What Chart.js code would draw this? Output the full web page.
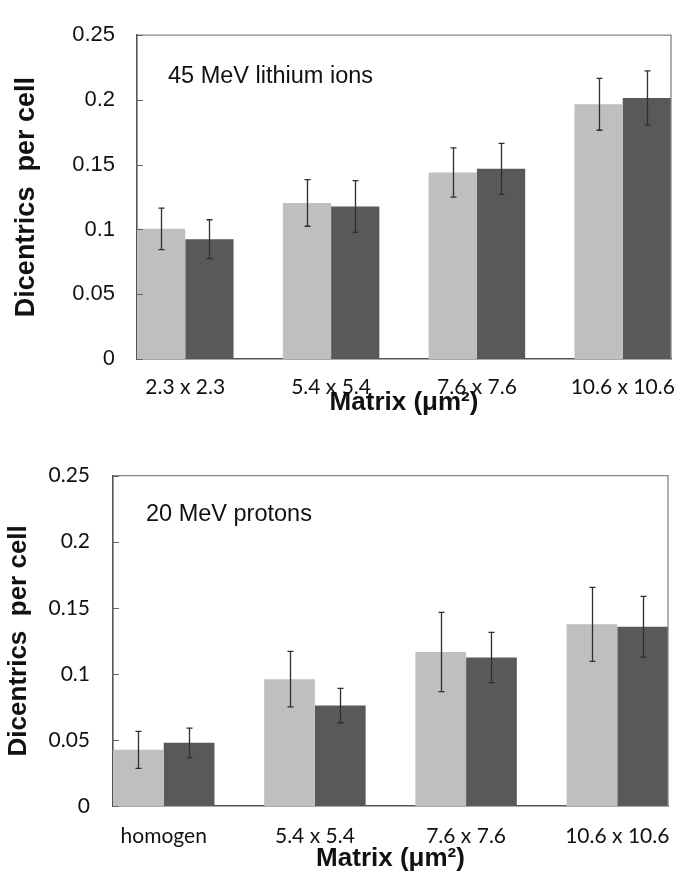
<!DOCTYPE html>
<html lang="en">
<head>
  <meta charset="UTF-8" />
  <title>Dicentrics per cell</title>
  <script src="https://cdn.jsdelivr.net/npm/chart.js"></script>
  <style>
    body { margin: 0; background: #fff; }
    canvas { display: block; }
  </style>
</head>
<body>

  <canvas id="graficoLitio" width="680" height="440"></canvas>
  <canvas id="graficoProtons" width="680" height="444"></canvas>

  <script>
    // dados
    const topCategories = ["2.3 x 2.3", "5.4 x 5.4", "7.6 x 7.6", "10.6 x 10.6"];
    const topLight = [0.1005, 0.1205, 0.144, 0.1966];
    const topLightErr = [0.016, 0.018, 0.019, 0.020];
    const topDark = [0.0925, 0.1177, 0.1468, 0.2015];
    const topDarkErr = [0.015, 0.020, 0.0197, 0.021];

    const bottomCategories = ["homogen", "5.4 x 5.4", "7.6 x 7.6", "10.6 x 10.6"];
    const bottomLight = [0.0425, 0.096, 0.1165, 0.1375];
    const bottomLightErr = [0.014, 0.021, 0.030, 0.028];
    const bottomDark = [0.0478, 0.076, 0.1124, 0.1356];
    const bottomDarkErr = [0.0112, 0.013, 0.019, 0.023];

    const yTicks = [0, 0.05, 0.1, 0.15, 0.2, 0.25];

    const LIGHT = "#bfbfbf";
    const DARK = "#595959";

    // barras de erro, moldura e ticks internos
    const extrasPlugin = {
      id: "extras",
      afterDatasetsDraw(chart, args, opts) {
        const ctx = chart.ctx;
        const y = chart.scales.y;
        const area = chart.chartArea;

        ctx.save();
        // moldura cinza em cima e à direita
        ctx.strokeStyle = "#858585";
        ctx.lineWidth = 1.3;
        ctx.beginPath();
        ctx.moveTo(area.left, area.top);
        ctx.lineTo(area.right, area.top);
        ctx.lineTo(area.right, area.bottom);
        ctx.stroke();

        // ticks para dentro no eixo y
        ctx.strokeStyle = "#666";
        ctx.lineWidth = 1;
        y.ticks.forEach(t => {
          const py = Math.round(y.getPixelForValue(t.value)) + 0.5;
          ctx.beginPath();
          ctx.moveTo(area.left, py);
          ctx.lineTo(area.left + 6, py);
          ctx.stroke();
        });

        // barras de erro
        ctx.strokeStyle = "#2e2e2e";
        ctx.lineWidth = 1.3;
        chart.data.datasets.forEach((ds, i) => {
          const meta = chart.getDatasetMeta(i);
          meta.data.forEach((bar, j) => {
            const v = ds.data[j].y;
            const e = ds.errors[j];
            const x = Math.round(bar.x) + 0.5;
            const yTop = y.getPixelForValue(v + e);
            const yBot = y.getPixelForValue(v - e);
            ctx.beginPath();
            ctx.moveTo(x, yTop);
            ctx.lineTo(x, yBot);
            ctx.moveTo(x - 3, yTop);
            ctx.lineTo(x + 3, yTop);
            ctx.moveTo(x - 3, yBot);
            ctx.lineTo(x + 3, yBot);
            ctx.stroke();
          });
        });

        // rótulo dentro do gráfico
        ctx.fillStyle = "#111";
        ctx.font = opts.labelFont;
        ctx.textBaseline = "alphabetic";
        ctx.fillText(opts.label, area.left + opts.labelDx, area.top + opts.labelDy);
        ctx.restore();
      }
    };

    function gerarGrafico(id, categories, light, lightErr, dark, darkErr, layout) {
      const ctx = document.getElementById(id).getContext("2d");

      const config = {
        type: "bar",
        data: {
          datasets: [
            {
              data: categories.map((c, i) => ({ x: i, y: light[i] })),
              errors: lightErr,
              backgroundColor: LIGHT
            },
            {
              data: categories.map((c, i) => ({ x: i, y: dark[i] })),
              errors: darkErr,
              backgroundColor: DARK
            }
          ]
        },
        options: {
          responsive: false,
          animation: false,
          categoryPercentage: layout.groupFrac,
          barPercentage: 1.0,
          layout: {
            padding: { top: layout.top, right: layout.right, left: 0, bottom: 0 }
          },
          plugins: {
            legend: { display: false },
            tooltip: { enabled: false },
            extras: {
              label: layout.label,
              labelFont: "23.5px 'Liberation Sans', Arial, sans-serif",
              labelDx: layout.labelDx,
              labelDy: layout.labelDy
            }
          },
          scales: {
            x: {
              type: "linear",
              offset: false,
              min: -layout.groupFrac / 2,
              max: categories.length - 1 + layout.groupFrac / 2,
              afterBuildTicks: s => { s.ticks = categories.map((c, i) => ({ value: i })); },
              afterFit: s => {
                s.height = layout.xHeight;
                s.paddingLeft = 0;
                s.paddingRight = 0;
              },
              grid: { display: false, drawTicks: false, offset: false },
              border: { display: true, color: "#555", width: 1.6 },
              ticks: {
                maxRotation: 0,
                autoSkip: false,
                padding: layout.xTickPad,
                color: "#111",
                font: { family: "Lato", size: 21 },
                callback: (v, i) => categories[i]
              },
              title: {
                display: true,
                text: "Matrix (μm²)",
                color: "#111",
                font: { family: "'Liberation Sans', Arial", size: 26, weight: "bold" },
                padding: { top: 0, bottom: layout.xTitlePad }
              }
            },
            y: {
              min: 0,
              max: 0.25,
              afterBuildTicks: s => { s.ticks = yTicks.map(v => ({ value: v })); },
              afterFit: s => { s.width = layout.yWidth; },
              grid: { display: false, drawTicks: false },
              border: { display: true, color: "#555", width: 1.6 },
              ticks: {
                padding: layout.yTickPad,
                color: "#111",
                font: layout.yTickFont,
                callback: v => String(+v.toFixed(2))
              },
              title: {
                display: true,
                text: "Dicentrics  per cell",
                color: "#111",
                font: { family: "'Liberation Sans', Arial", size: layout.yTitleSize, weight: "bold" },
                padding: { top: layout.yTitlePad, bottom: 0 }
              }
            }
          }
        },
        plugins: [extrasPlugin]
      };

      return new Chart(ctx, config);
    }

    gerarGrafico("graficoLitio", topCategories, topLight, topLightErr, topDark, topDarkErr, {
      groupFrac: 0.662,
      top: 19, right: 9,
      yWidth: 137, xHeight: 81,
      xTickPad: 16, yTickPad: 22,
      xTitlePad: 22,
      yTitleSize: 27, yTitlePad: 10,
      yTickFont: { family: "'Liberation Sans', Arial", size: 22 },
      label: "45 MeV lithium ions", labelDx: 31, labelDy: 48
    });

    gerarGrafico("graficoProtons", bottomCategories, bottomLight, bottomLightErr, bottomDark, bottomDarkErr, {
      groupFrac: 0.671,
      top: 29, right: 12,
      yWidth: 113, xHeight: 78,
      xTickPad: 18, yTickPad: 23,
      xTitlePad: 10,
      yTitleSize: 26, yTitlePad: 3,
      yTickFont: { family: "Lato", size: 21 },
      label: "20 MeV protons", labelDx: 33, labelDy: 45
    });
  </script>
</body>
</html>
